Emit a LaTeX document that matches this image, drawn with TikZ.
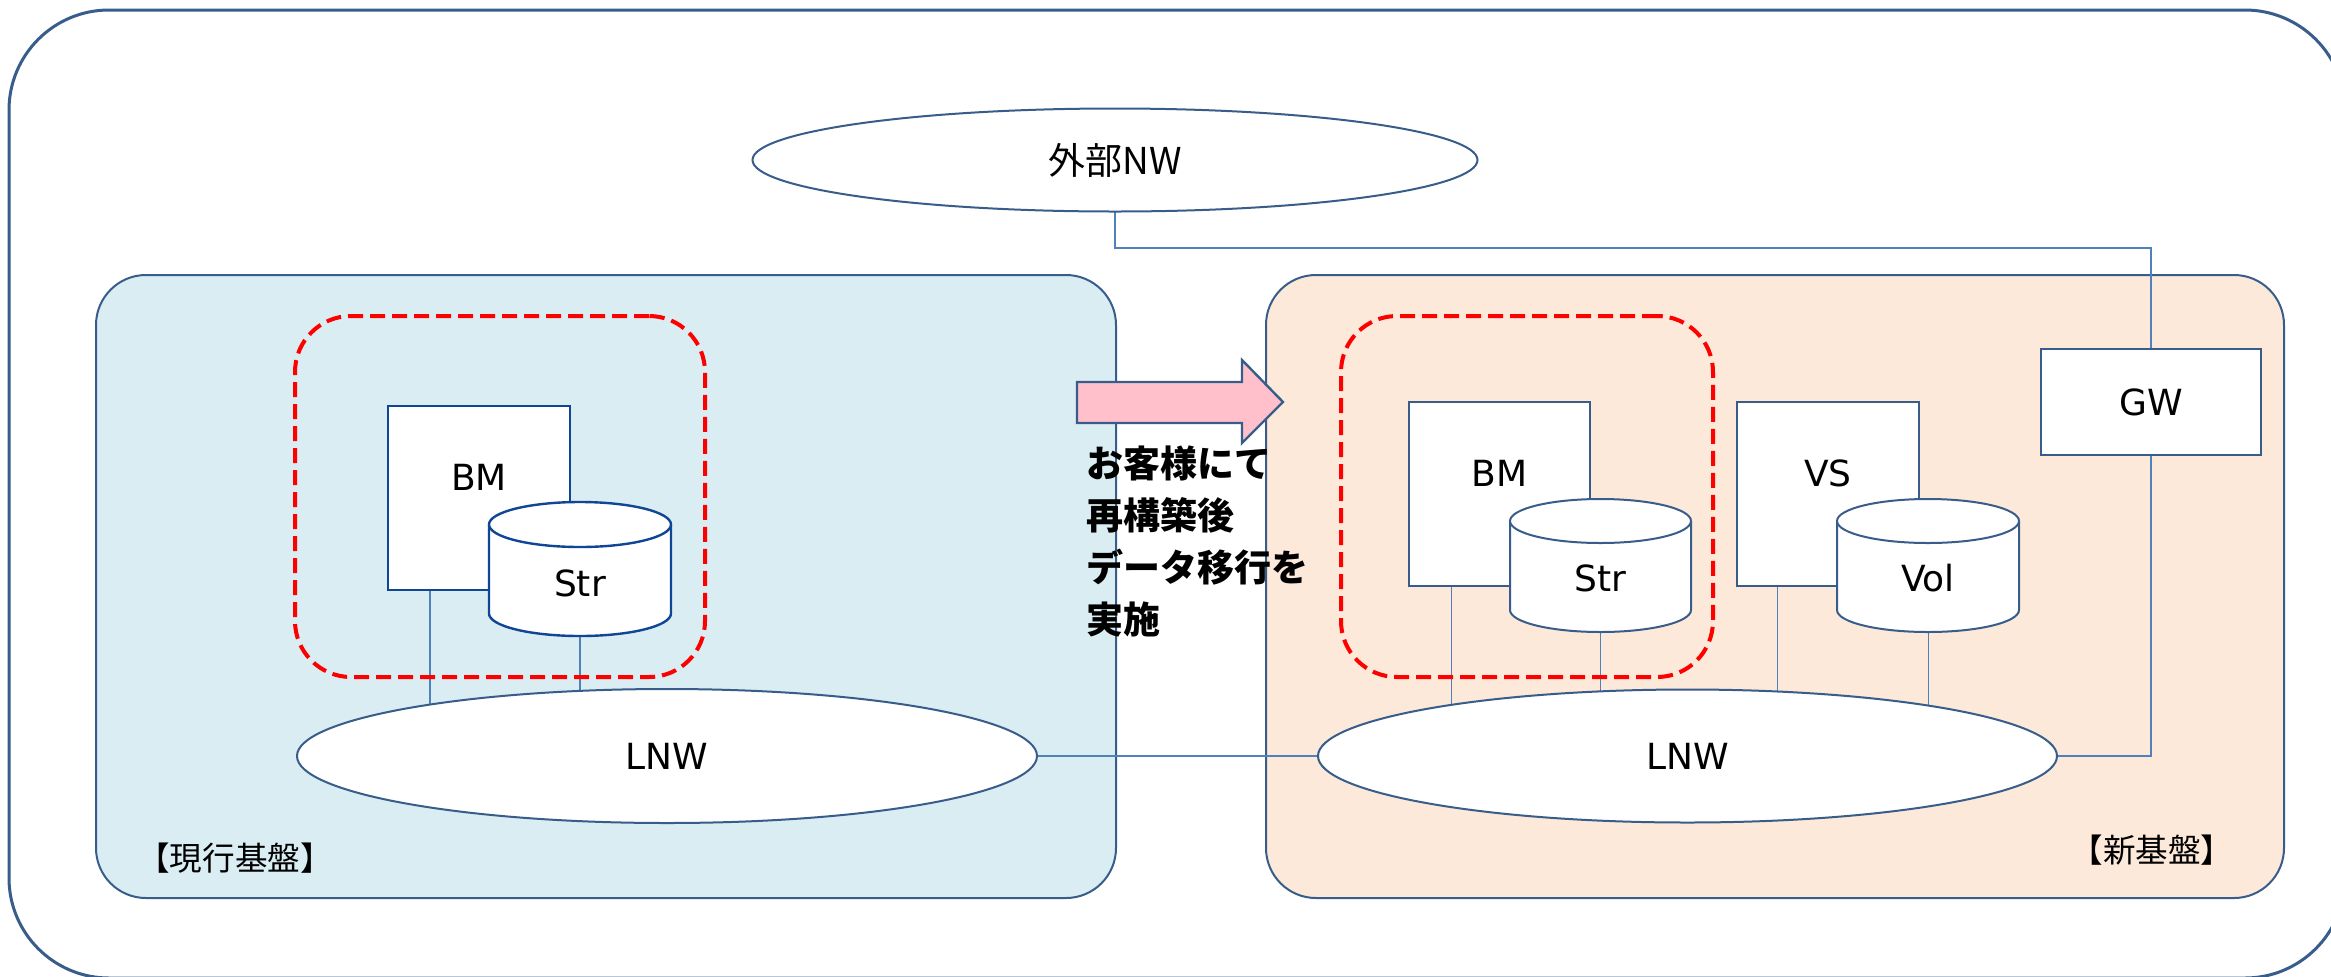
\documentclass[tikz,border=0pt]{standalone}
\usepackage{fontspec}
\setmainfont{DejaVu Sans}
\newfontfamily\jp{Noto Sans CJK JP}
\usetikzlibrary{shapes.geometric,calc}
\definecolor{bordc}{RGB}{56,93,138}
\definecolor{darkb}{RGB}{16,70,150}
\definecolor{connc}{RGB}{79,129,189}
\definecolor{curblue}{RGB}{218,237,243}
\definecolor{newpeach}{RGB}{253,233,217}
\definecolor{pinkc}{RGB}{255,192,203}
\pgfdeclarelayer{panel}
\pgfdeclarelayer{conn}
\pgfsetlayers{panel,conn,main}
\newcommand\mycyl[7]{%
  \pgfmathsetmacro\cyL{#2-#5}%
  \pgfmathsetmacro\cyR{#2+#5}%
  \pgfmathsetmacro\cyT{#3+#6}%
  \pgfmathsetmacro\cyB{#4-#6}%
  \pgfmathsetmacro\cyKx{0.5523*#5}%
  \pgfmathsetmacro\cyKy{0.5523*#6}%
  \pgfmathsetmacro\cyW{#5}%
  \pgfmathsetmacro\cyH{(#4-#3)/2}%
  \pgfmathsetmacro\cyM{(#3+#4)/2}%
  \path[#7, fill=white] (\cyL,\cyT) -- (\cyL,\cyB) .. controls (\cyL,\cyB+\cyKy) and (#2-\cyKx,#4) .. (#2,#4) .. controls (#2+\cyKx,#4) and (\cyR,\cyB+\cyKy) .. (\cyR,\cyB) -- (\cyR,\cyT);
  \path[#7, fill=white] (#2,\cyT) ellipse [x radius=#5, y radius=#6];
  \node[minimum width=\cyW pt, minimum height=\cyH pt] (#1) at (#2,\cyM) {};
}
\begin{document}
\begin{tikzpicture}[x=0.5pt,y=-0.5pt,
  every node/.style={inner sep=0pt, outer sep=0pt},
  panelbox/.style={draw=bordc, line width=1pt, rounded corners=25pt},
  redbox/.style={draw=red, line width=2pt, dash pattern=on 7.5pt off 3.5pt, rounded corners=28pt},
  lbox/.style={draw=darkb, line width=1.2pt, fill=white},
  rbox/.style={draw=bordc, line width=1pt, fill=white},
  lcyl/.style={draw=darkb, line width=1.2pt},
  rcyl/.style={draw=bordc, line width=1pt},
  net/.style={ellipse, draw=bordc, fill=white, line width=1pt},
  conL/.style={draw=connc, line width=1pt},
  conR/.style={draw=connc, line width=0.5pt},
  lab/.style={font=\fontsize{18}{20}\selectfont},
  jplab/.style={font=\jp\fontsize{16.3}{18}\selectfont}
]
\useasboundingbox (0,0) rectangle (2331,976);

\begin{pgfonlayer}{panel}
\draw[bordc, line width=1.5pt, rounded corners=50pt] (9,10) rectangle (2345,978);
\node[panelbox, fill=curblue, minimum width=510pt, minimum height=311.5pt] (cur) at (606,586.5) {};
\node[panelbox, fill=newpeach, minimum width=509pt, minimum height=311.5pt] (new) at (1775,586.5) {};
\end{pgfonlayer}

% external network
\node[net, minimum width=362.5pt, minimum height=51.5pt, font=\jp\fontsize{18.5}{20}\selectfont] (ext) at (1115,160) {外部NW};

% groups
\node[redbox, minimum width=205pt, minimum height=180.5pt] (lgrp) at (500,496.5) {};
\node[redbox, minimum width=186pt, minimum height=180.5pt] (rgrp) at (1527,496.5) {};

% left side
\node[lbox, minimum width=91pt, minimum height=92pt] (lbm) at (479,498) {};
\node[lab] (lbmL) at (479,477) {BM};
\mycyl{lstr}{580}{502}{636}{91}{22.5}{lcyl}
\node[lab] (lstrL) at (580,583) {Str};

% right side
\node[rbox, minimum width=90.5pt, minimum height=92pt] (rbm) at (1499.5,494) {};
\node[lab] (rbmL) at (1499.5,473) {BM};
\mycyl{rstr}{1600.5}{499}{632}{90.5}{22}{rcyl}
\node[lab] (rstrL) at (1600.5,578) {Str};

\node[rbox, minimum width=91pt, minimum height=92pt] (vs) at (1828,494) {};
\node[lab] (vsL) at (1828,473) {VS};
\mycyl{vol}{1928}{499}{632}{91}{22}{rcyl}
\node[lab] (volL) at (1928,578) {Vol};

\node[rbox, lab, minimum width=110pt, minimum height=53pt] (gw) at (2151,402) {GW};

% local networks
\node[net, lab, minimum width=370pt, minimum height=67pt] (llnw) at (667,756) {LNW};
\node[net, lab, minimum width=369.5pt, minimum height=66.5pt] (rlnw) at (1687.5,756) {LNW};

% migration arrow
\draw[bordc, line width=1.2pt, fill=pinkc, line join=miter] (1077,382) -- (1242,382) -- (1242,360) -- (1283,402) -- (1242,443) -- (1242,423) -- (1077,423) -- cycle;
\node[anchor=north west, align=left, font=\jp\bfseries\fontsize{18.5}{26}\selectfont] (note) at (1086,446) {お客様にて\\再構築後\\データ移行を\\実施};

% platform labels
\node[jplab] (curL) at (235,858) {【現行基盤】};
\node[jplab] (newL) at (2152,850) {【新基盤】};

% connectors
\coordinate (lbmc) at ($(lbm.south west)+(42,0)$);
\coordinate (rbmc) at ($(rbm.south west)+(42,0)$);
\coordinate (vsc) at ($(vs.south west)+(40,0)$);
\coordinate (bend) at (1115,248);
\begin{pgfonlayer}{conn}
\draw[conL] (lbmc) -- (lbmc |- llnw.center);
\draw[conL] (lstr.south) -- (lstr.south |- llnw.center);
\draw[conR] (rbmc) -- (rbmc |- rlnw.center);
\draw[conR] (rstr.south) -- (rstr.south |- rlnw.center);
\draw[conR] (vsc) -- (vsc |- rlnw.center);
\draw[conR] (vol.south) -- (vol.south |- rlnw.center);
\draw[conL] (llnw.east) -- (rlnw.west);
\draw[conL] (ext.south) -- (ext.south |- bend) -| (gw.north);
\draw[conL] (gw.south) |- (rlnw.east);
\end{pgfonlayer}
\end{tikzpicture}
\end{document}
